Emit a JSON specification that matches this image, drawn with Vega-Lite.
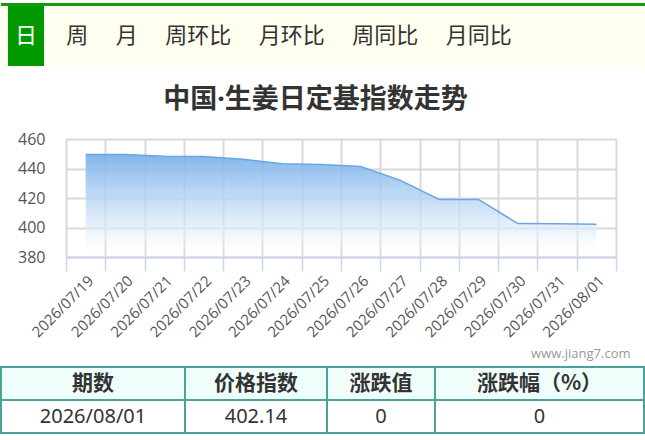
{
  "$schema": "https://vega.github.io/schema/vega-lite/v6.json",
  "padding": {"left": 0, "top": 3, "right": 0, "bottom": 0},
  "background": "white",
  "spacing": 0,
  "align": "none",
  "config": {
    "view": {"stroke": null},
    "font": "Noto Sans CJK SC"
  },
  "datasets": {
    "blank": [{}],
    "tabs": [{"sel": "日", "rest": "周\u3000\u2005月\u3000\u2005周环比\u3000\u2005月环比\u3000\u2005周同比\u3000\u2005月同比"}],
    "heading": [{"title": "中国·生姜日定基指数走势"}],
    "index": [
      {"date": "2026/07/19", "value": 449.5},
      {"date": "2026/07/20", "value": 449.5},
      {"date": "2026/07/21", "value": 448.3},
      {"date": "2026/07/22", "value": 448.1},
      {"date": "2026/07/23", "value": 446.3},
      {"date": "2026/07/24", "value": 443.2},
      {"date": "2026/07/25", "value": 442.7},
      {"date": "2026/07/26", "value": 441.4},
      {"date": "2026/07/27", "value": 432.1},
      {"date": "2026/07/28", "value": 419.0},
      {"date": "2026/07/29", "value": 419.0},
      {"date": "2026/07/30", "value": 402.7},
      {"date": "2026/07/31", "value": 402.5},
      {"date": "2026/08/01", "value": 402.14}
    ],
    "cells": [
      {"col": "期数", "row": "header", "text": "期数"},
      {"col": "期数", "row": "data", "text": "2026/08/01"},
      {"col": "价格指数", "row": "header", "text": "价格指数"},
      {"col": "价格指数", "row": "data", "text": "402.14"},
      {"col": "涨跌值", "row": "header", "text": "涨跌值"},
      {"col": "涨跌值", "row": "data", "text": "0"},
      {"col": "涨跌幅", "row": "header", "text": "涨跌幅（%）"},
      {"col": "涨跌幅", "row": "data", "text": "0"}
    ]
  },
  "vconcat": [
    {
      "data": {"name": "blank"}, "width": 645, "height": 3,
      "view": {"fill": "#129c12", "stroke": null},
      "mark": {"type": "text", "fontSize": 0}, "encoding": {"text": {"value": ""}}
    },
    {
      "hconcat": [
        {"data": {"name": "blank"}, "width": 7, "height": 60, "view": {"fill": "#fffff0", "stroke": null},
         "mark": {"type": "text", "fontSize": 0}, "encoding": {"text": {"value": ""}}},
        {"data": {"name": "tabs"}, "width": 36, "height": 60, "view": {"fill": "#009a00", "stroke": null},
         "mark": {"type": "text", "fontSize": 22, "color": "white", "font": "Noto Sans CJK SC"},
         "encoding": {"text": {"field": "sel", "type": "nominal"}}},
        {"data": {"name": "tabs"}, "width": 490, "height": 60, "view": {"fill": "#fffff0", "stroke": null},
         "mark": {"type": "text", "fontSize": 22, "color": "#333", "font": "Noto Sans CJK SC"},
         "encoding": {"text": {"field": "rest", "type": "nominal"}}},
        {"data": {"name": "blank"}, "width": 112, "height": 60, "view": {"fill": "#fffff0", "stroke": null},
         "mark": {"type": "text", "fontSize": 0}, "encoding": {"text": {"value": ""}}}
      ],
      "spacing": 0, "bounds": "flush"
    },
    {
      "data": {"name": "heading"}, "width": 645, "height": 65,
      "mark": {"type": "text", "fontSize": 27, "fontWeight": "bold", "color": "#333",
               "font": "Noto Sans, Noto Sans CJK SC", "dx": -8, "dy": 1},
      "encoding": {"text": {"field": "title", "type": "nominal"}}
    },
    {
      "hconcat": [
        {"data": {"name": "blank"}, "width": 65, "height": 118,
         "mark": {"type": "text", "fontSize": 0}, "encoding": {"text": {"value": ""}}},
        {
          "data": {"name": "index"},
          "width": 550, "height": 118,
          "encoding": {
            "x": {
              "field": "date", "type": "ordinal", "bandPosition": 0.5,
              "scale": {"type": "band", "paddingInner": 0, "paddingOuter": 0},
              "axis": {
                "tickBand": "extent", "grid": true, "gridColor": "#d9d9d9", "gridWidth": 2,
                "domainColor": "#ccd6eb", "domainWidth": 2,
                "tickColor": "#ccd6eb", "tickWidth": 1.5, "tickSize": 14,
                "labelAngle": -45, "labelFontSize": 15, "labelColor": "#555", "labelFont": "Open Sans",
                "labelPadding": 2, "labelOverlap": false, "labelFlush": false,
                "title": "www.jiang7.com", "titleFontSize": 13, "titleColor": "#999", "titleFontWeight": "normal",
                "titleFont": "Open Sans", "titleAlign": "right", "titleAnchor": "end", "titleX": 564, "titlePadding": 8
              }
            },
            "y": {"field": "value", "type": "quantitative",
              "scale": {"domain": [380, 460], "nice": false, "zero": false},
              "axis": {"values": [380, 400, 420, 440, 460], "grid": true, "gridColor": "#d9d9d9", "gridWidth": 2,
                "domain": false, "ticks": false, "labelFontSize": 16, "labelColor": "#555", "labelFont": "Open Sans",
                "labelPadding": 21, "labelOverlap": false, "title": null}}
          },
          "layer": [
            {
              "mark": {"type": "area", "fillOpacity": 0.9,
                "color": {"gradient": "linear", "x1": 0, "y1": 0, "x2": 0, "y2": 1,
                  "stops": [{"offset": 0, "color": "#74ade9"}, {"offset": 0.75, "color": "rgba(226,238,251,0.75)"}, {"offset": 1, "color": "rgba(255,255,255,0)"}]}},
              "encoding": {"y2": {"datum": 380}}
            },
            {
              "mark": {"type": "line", "color": "#6aa6e6", "strokeWidth": 1.5}
            }
          ]
        }
      ],
      "spacing": 0, "bounds": "flush"
    },
    {
      "data": {"name": "blank"}, "width": 645, "height": 5,
      "mark": {"type": "text", "fontSize": 0}, "encoding": {"text": {"value": ""}}
    },
    {
      "hconcat": [
        {
          "data": {"name": "cells"}, "width": 184, "height": 66,
          "transform": [{"filter": "datum.col === '期数'"}],
          "encoding": {"y": {"field": "row", "type": "nominal", "scale": {"domain": ["header", "data"], "paddingInner": 0, "paddingOuter": 0}, "axis": null}},
          "layer": [
            {"mark": {"type": "rect", "stroke": "#4aa39b", "strokeWidth": 2},
             "encoding": {"color": {"field": "row", "type": "nominal", "scale": {"domain": ["header", "data"], "range": ["#effefa", "#ffffff"]}, "legend": null}}},
            {"transform": [{"filter": "datum.row === 'header'"}],
             "mark": {"type": "text", "fontSize": 21, "fontWeight": "bold", "color": "#333"},
             "encoding": {"text": {"field": "text", "type": "nominal"}}},
            {"transform": [{"filter": "datum.row === 'data'"}],
             "mark": {"type": "text", "fontSize": 20, "color": "#333", "font": "Noto Sans"},
             "encoding": {"text": {"field": "text", "type": "nominal"}}}
          ]
        },
        {
          "data": {"name": "cells"}, "width": 142, "height": 66,
          "transform": [{"filter": "datum.col === '价格指数'"}],
          "encoding": {"y": {"field": "row", "type": "nominal", "scale": {"domain": ["header", "data"], "paddingInner": 0, "paddingOuter": 0}, "axis": null}},
          "layer": [
            {"mark": {"type": "rect", "stroke": "#4aa39b", "strokeWidth": 2},
             "encoding": {"color": {"field": "row", "type": "nominal", "scale": {"domain": ["header", "data"], "range": ["#effefa", "#ffffff"]}, "legend": null}}},
            {"transform": [{"filter": "datum.row === 'header'"}],
             "mark": {"type": "text", "fontSize": 21, "fontWeight": "bold", "color": "#333"},
             "encoding": {"text": {"field": "text", "type": "nominal"}}},
            {"transform": [{"filter": "datum.row === 'data'"}],
             "mark": {"type": "text", "fontSize": 20, "color": "#333", "font": "Noto Sans"},
             "encoding": {"text": {"field": "text", "type": "nominal"}}}
          ]
        },
        {
          "data": {"name": "cells"}, "width": 108, "height": 66,
          "transform": [{"filter": "datum.col === '涨跌值'"}],
          "encoding": {"y": {"field": "row", "type": "nominal", "scale": {"domain": ["header", "data"], "paddingInner": 0, "paddingOuter": 0}, "axis": null}},
          "layer": [
            {"mark": {"type": "rect", "stroke": "#4aa39b", "strokeWidth": 2},
             "encoding": {"color": {"field": "row", "type": "nominal", "scale": {"domain": ["header", "data"], "range": ["#effefa", "#ffffff"]}, "legend": null}}},
            {"transform": [{"filter": "datum.row === 'header'"}],
             "mark": {"type": "text", "fontSize": 21, "fontWeight": "bold", "color": "#333"},
             "encoding": {"text": {"field": "text", "type": "nominal"}}},
            {"transform": [{"filter": "datum.row === 'data'"}],
             "mark": {"type": "text", "fontSize": 20, "color": "#333", "font": "Noto Sans"},
             "encoding": {"text": {"field": "text", "type": "nominal"}}}
          ]
        },
        {
          "data": {"name": "cells"}, "width": 209, "height": 66,
          "transform": [{"filter": "datum.col === '涨跌幅'"}],
          "encoding": {"y": {"field": "row", "type": "nominal", "scale": {"domain": ["header", "data"], "paddingInner": 0, "paddingOuter": 0}, "axis": null}},
          "layer": [
            {"mark": {"type": "rect", "stroke": "#4aa39b", "strokeWidth": 2},
             "encoding": {"color": {"field": "row", "type": "nominal", "scale": {"domain": ["header", "data"], "range": ["#effefa", "#ffffff"]}, "legend": null}}},
            {"transform": [{"filter": "datum.row === 'header'"}],
             "mark": {"type": "text", "fontSize": 21, "fontWeight": "bold", "color": "#333"},
             "encoding": {"text": {"field": "text", "type": "nominal"}}},
            {"transform": [{"filter": "datum.row === 'data'"}],
             "mark": {"type": "text", "fontSize": 20, "color": "#333", "font": "Noto Sans"},
             "encoding": {"text": {"field": "text", "type": "nominal"}}}
          ]
        }
      ],
      "spacing": 0, "bounds": "flush"
    }
  ]
}
